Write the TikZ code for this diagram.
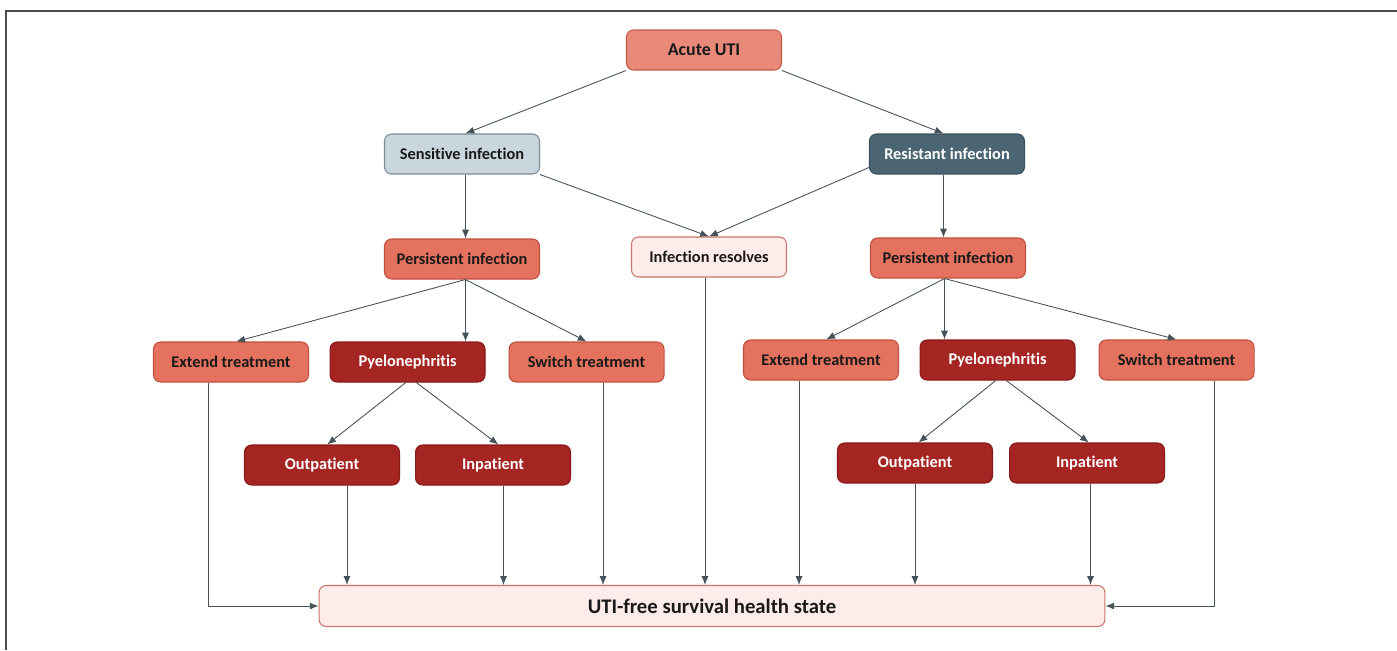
\documentclass[tikz,border=0pt]{standalone}
\usepackage{fontspec}
\setmainfont{Carlito}[Ligatures={NoCommon}]
\usetikzlibrary{positioning,calc,arrows.meta}
\definecolor{acutefill}{HTML}{E8897A}
\definecolor{acuteline}{HTML}{C45A4A}
\definecolor{persfill}{HTML}{E4725E}
\definecolor{persline}{HTML}{C0503E}
\definecolor{pyelofill}{HTML}{A52523}
\definecolor{pyeloline}{HTML}{8A1A1A}
\definecolor{sensfill}{HTML}{C9D6DE}
\definecolor{sensline}{HTML}{7A8C96}
\definecolor{resfill}{HTML}{4B6573}
\definecolor{resline}{HTML}{3A505C}
\definecolor{lightfill}{HTML}{FDECEA}
\definecolor{lightline}{HTML}{C8786A}
\definecolor{arrgray}{HTML}{46525A}
\tikzset{dbox/.style={rounded corners=4, draw, line width=0.6pt, minimum width=3.1cm, minimum height=0.8cm, inner sep=0pt, align=center, text=black!90, font=\bfseries\fontsize{9.3}{11}\selectfont}}
\tikzset{dacute/.style={dbox, fill=acutefill, draw=acuteline, font=\bfseries\fontsize{10.2}{12}\selectfont}}
\tikzset{dpers/.style={dbox, fill=persfill, draw=persline}}
\tikzset{dpyelo/.style={dbox, fill=pyelofill, draw=pyeloline, text=white}}
\tikzset{dsens/.style={dbox, fill=sensfill, draw=sensline}}
\tikzset{dres/.style={dbox, fill=resfill, draw=resline, text=white}}
\tikzset{dlight/.style={dbox, fill=lightfill, draw=lightline}}
\tikzset{arr1/.style={draw=arrgray, line width=0.5pt, -{Latex[length=5pt,width=4pt]}}}
\begin{document}
\begin{tikzpicture}[x=0.02cm, y=-0.02cm]
  \useasboundingbox (0,0) rectangle (1397,650);
  \draw[black!70, line width=1pt] (6,650) -- (6,11) -- (1397,11);

  \node[dacute] (acute) at (704,50) {Acute UTI};
  \node[dsens] (sens) at (462,154) {Sensitive infection};
  \node[dres] (res) at (947,154) {Resistant infection};
  \node[dpers] (persL) at (462,259) {Persistent infection};
  \node[dlight] (resolves) at (709,257) {Infection resolves};
  \node[dpers] (persR) at (948,258) {Persistent infection};

  \node[dpers] (extL) at (231,362) {Extend treatment};
  \node[dpyelo, right=0.41cm of extL] (pyeL) {Pyelonephritis};
  \node[dpers, right=0.46cm of pyeL] (swL) {Switch treatment};
  \node[dpers] (extR) at (821,360) {Extend treatment};
  \node[dpyelo, right=0.41cm of extR] (pyeR) {Pyelonephritis};
  \node[dpers, right=0.46cm of pyeR] (swR) {Switch treatment};

  \node[dpyelo] (outL) at (322,465) {Outpatient};
  \node[dpyelo, right=0.3cm of outL] (inL) {Inpatient};
  \node[dpyelo] (outR) at (915,463) {Outpatient};
  \node[dpyelo, right=0.32cm of outR] (inR) {Inpatient};

  \node[dlight, minimum width=15.72cm, minimum height=0.82cm, font=\bfseries\fontsize{11.8}{14}\selectfont] (free) at (712,606) {UTI-free survival health state};

  % first split
  \draw[arr1] (acute.south west) -- ([xshift=2pt]sens.north);
  \draw[arr1] (acute.south east) -- ([xshift=-2pt]res.north);
  \draw[arr1] (sens.south east) -- (resolves.north);
  \draw[arr1] ([yshift=4pt]res.south west) -- (resolves.north);
  \draw[arr1] ([xshift=2pt]sens.south) -- ([xshift=2pt]persL.north);
  \draw[arr1] ([xshift=-2pt]res.south) -- ([xshift=-2pt]res.south |- persR.north);

  % persistent infection
  \draw[arr1] ([xshift=2pt]persL.south) -- ([xshift=3pt]extL.north);
  \draw[arr1] ([xshift=2pt]persL.south) -- ([xshift=2pt]persL.south |- pyeL.north);
  \draw[arr1] ([xshift=2pt]persL.south) -- (swL.north);
  \draw[arr1] ([xshift=-2pt]persR.south) -- ([xshift=3pt]extR.north);
  \draw[arr1] ([xshift=-2pt]persR.south) -- ([xshift=-2pt]persR.south |- pyeR.north);
  \draw[arr1] ([xshift=-2pt]persR.south) -- (swR.north);

  % pyelonephritis
  \draw[arr1] ([xshift=-1pt]pyeL.south) -- ([xshift=3pt]outL.north);
  \draw[arr1] ([xshift=5pt]pyeL.south) -- ([xshift=3pt]inL.north);
  \draw[arr1] ([xshift=-1pt]pyeR.south) -- ([xshift=2pt]outR.north);
  \draw[arr1] ([xshift=5pt]pyeR.south) -- ([xshift=1pt]inR.north);

  % to survival state
  \coordinate (dEL) at ([xshift=-0.46cm]extL.south);
  \coordinate (dOL) at ([xshift=0.5cm]outL.south);
  \coordinate (dIL) at ([xshift=0.21cm]inL.south);
  \coordinate (dSL) at ([xshift=0.33cm]swL.south);
  \coordinate (dRS) at ([xshift=-0.08cm]resolves.south);
  \coordinate (dER) at ([xshift=-0.44cm]extR.south);
  \coordinate (dOR) at (outR.south);
  \coordinate (dIR) at ([xshift=0.07cm]inR.south);
  \coordinate (dSR) at ([xshift=0.75cm]swR.south);
  \draw[arr1] (dEL) |- (free.west);
  \draw[arr1] (dOL) -- (dOL |- free.north);
  \draw[arr1] (dIL) -- (dIL |- free.north);
  \draw[arr1] (dSL) -- (dSL |- free.north);
  \draw[arr1] (dRS) -- (dRS |- free.north);
  \draw[arr1] (dER) -- (dER |- free.north);
  \draw[arr1] (dOR) -- (dOR |- free.north);
  \draw[arr1] (dIR) -- (dIR |- free.north);
  \draw[arr1] (dSR) |- (free.east);
\end{tikzpicture}
\end{document}
